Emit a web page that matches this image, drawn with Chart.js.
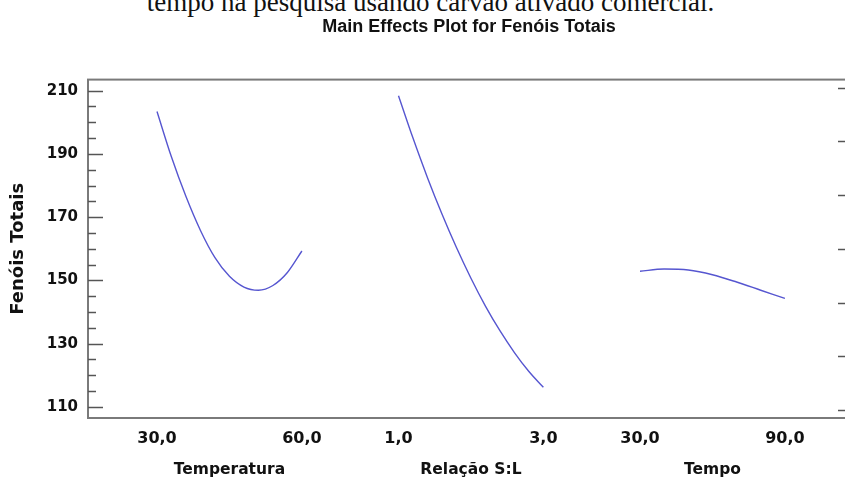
<!DOCTYPE html>
<html>
<head>
<meta charset="utf-8">
<script src="https://cdn.jsdelivr.net/npm/chart.js@4.4.0/dist/chart.umd.min.js"></script>
<style>
  html, body { margin: 0; padding: 0; background: #fff; overflow: hidden; width: 845px; height: 486px; }
  #wrap { position: relative; width: 860px; height: 486px; }
  #cap {
    position: absolute; left: 8px; top: -11px; width: 845px; text-align: center;
    font-family: "Liberation Serif", "Times New Roman", serif; font-size: 27px; line-height: 27px;
    color: #111; white-space: nowrap;
  }
  canvas { position: absolute; left: 0; top: 0; }
</style>
</head>
<body>
<div id="wrap">
  <div id="cap">tempo na pesquisa usando carvão ativado comercial.</div>
  <canvas id="chart" width="860" height="486"></canvas>
</div>
<script>
// factors and their ranges (low, high)
const factorNames = ['Temperatura', 'Relação S:L', 'Tempo'];
const factorRanges = [[30, 60], [1, 3], [30, 90]];
const tickLabels = ['30,0', '60,0', '1,0', '3,0', '30,0', '90,0'];
const yTicks = [110, 130, 150, 170, 190, 210];

// main effect curves
const tempX = [30, 33, 36, 39, 42, 45, 48, 51, 54, 57, 60];
const tempY = [203.4, 189.0, 176.5, 165.8, 157.2, 151.3, 147.9, 146.9, 148.4, 152.5, 159.3];

const razaoX = [1.0, 1.2, 1.4, 1.6, 1.8, 2.0, 2.2, 2.4, 2.6, 2.8, 3.0];
const razaoY = [208.4, 195.0, 182.5, 171.0, 160.4, 150.7, 141.9, 134.1, 127.2, 121.2, 116.2];

const tempoX = [30, 40, 50, 60, 70, 80, 90];
const tempoY = [152.9, 153.6, 153.3, 151.8, 149.5, 146.9, 144.3];

const SPAN = 0.6; // width of one factor panel on the shared x axis
const LINE = '#5656d0';
const WIDE = '"DejaVu Sans", Verdana, sans-serif';
const NARROW = '"Liberation Sans", Arial, sans-serif';

function toPos(i, v) {
  const [lo, hi] = factorRanges[i];
  return i + (v - lo) / (hi - lo) * SPAN;
}

function series(i, xs, ys) {
  return {
    label: factorNames[i],
    data: xs.map((v, k) => ({ x: toPos(i, v), y: ys[k] })),
    borderColor: LINE,
    borderWidth: 1.4,
    pointRadius: 0,
    cubicInterpolationMode: 'monotone',
    fill: false
  };
}

const tickPos = [];
factorRanges.forEach((r, i) => { tickPos.push(toPos(i, r[0]), toPos(i, r[1])); });

const frameAndTicks = {
  id: 'frameAndTicks',
  afterDatasetsDraw(chart) {
    const { ctx, chartArea: { left, right, top, bottom }, scales: { x, y, y2 } } = chart;
    ctx.save();
    ctx.strokeStyle = '#7a7a7a';
    ctx.lineWidth = 2;
    ctx.strokeRect(left, top, right - left, bottom - top);

    // inward ticks, left axis (major every 20, minor every 5)
    ctx.strokeStyle = '#555';
    ctx.lineWidth = 1.5;
    for (let v = yTicks[0]; v <= yTicks[yTicks.length - 1]; v += 5) {
      const py = Math.round(y.getPixelForValue(v)) + 0.5;
      const len = yTicks.includes(v) ? 15 : 8;
      ctx.beginPath(); ctx.moveTo(left, py); ctx.lineTo(left + len, py); ctx.stroke();
    }
    // right side ticks
    for (let v = 0; v <= 6; v++) {
      const py = Math.round(y2.getPixelForValue(v)) + 0.5;
      ctx.beginPath(); ctx.moveTo(right, py); ctx.lineTo(right - 12, py); ctx.stroke();
    }

    // factor names under the tick labels
    ctx.fillStyle = '#111';
    ctx.font = 'bold 15.5px ' + WIDE;
    ctx.textAlign = 'center';
    ctx.textBaseline = 'middle';
    factorNames.forEach((name, i) => {
      ctx.fillText(name, x.getPixelForValue(i + SPAN / 2), 470);
    });
    ctx.restore();
  }
};

new Chart(document.getElementById('chart'), {
  type: 'line',
  data: {
    datasets: [
      series(0, tempX, tempY),
      series(1, razaoX, razaoY),
      series(2, tempoX, tempoY)
    ]
  },
  options: {
    responsive: false,
    animation: false,
    layout: { padding: { left: 0, right: 10, top: 0, bottom: 0 } },
    plugins: {
      legend: { display: false },
      tooltip: { enabled: false },
      title: {
        display: true,
        fullSize: false,
        text: 'Main Effects Plot for Fenóis Totais',
        color: '#111',
        font: { family: NARROW, size: 18, weight: 'bold' },
        padding: { top: 16, bottom: 42 }
      }
    },
    scales: {
      x: {
        type: 'linear',
        min: -0.2857,
        max: 2.8696,
        grid: { display: false, drawTicks: false },
        border: { display: false },
        afterBuildTicks: s => { s.ticks = tickPos.map(v => ({ value: v })); },
        afterFit: s => { s.height = 68; },
        ticks: {
          autoSkip: false,
          maxRotation: 0,
          padding: 11,
          color: '#111',
          font: { family: WIDE, size: 16, weight: 'bold' },
          callback: (v, i) => tickLabels[i]
        }
      },
      y: {
        min: 106.5,
        max: 213.5,
        grid: { display: false, drawTicks: false },
        border: { display: false },
        afterBuildTicks: s => { s.ticks = yTicks.map(v => ({ value: v })); },
        afterFit: s => { s.width = 88; },
        title: {
          display: true,
          text: 'Fenóis Totais',
          color: '#111',
          font: { family: WIDE, size: 18, weight: 'bold' },
          padding: { top: 8, bottom: 0 }
        },
        ticks: { padding: 10, color: '#111', font: { family: WIDE, size: 15, weight: 'bold' } }
      },
      y2: {
        display: false,
        position: 'right',
        min: -0.15,
        max: 6.15
      }
    }
  },
  plugins: [frameAndTicks]
});
</script>
</body>
</html>
